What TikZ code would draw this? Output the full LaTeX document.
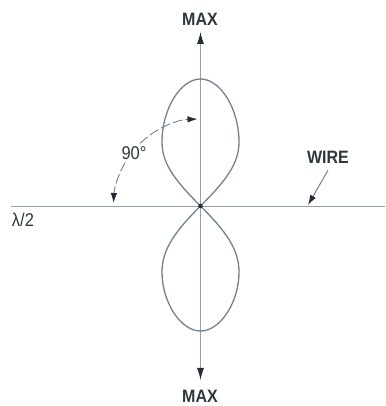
\documentclass[tikz,border=0pt]{standalone}
\usepackage{fontspec}
\setmainfont{Liberation Sans}
\usepackage{graphicx}
\usetikzlibrary{arrows.meta,calc}
\definecolor{txt}{RGB}{45,55,60}
\definecolor{lobe}{RGB}{115,128,142}
\definecolor{axis}{RGB}{150,160,172}
\definecolor{tipc}{RGB}{35,45,55}
\newcommand{\talltext}[1]{\scalebox{1}[1.12]{#1}}
\begin{document}
\begin{tikzpicture}[x=1pt,y=1pt,
  lbl/.style={text=txt,font=\fontsize{16}{16}\selectfont\bfseries,inner sep=0pt},
  plain/.style={text=txt,font=\fontsize{16.5}{16.5}\selectfont,inner sep=0pt},
  axisline/.style={draw=axis,line width=0.9pt},
  lobeline/.style={draw=lobe,line width=1.3pt},
  bigtip/.style={-{Latex[length=12pt,width=7pt,color=tipc]}},
  arctip/.style={-{Latex[length=10pt,width=6.5pt,color=tipc]}},
  arcline/.style={draw=lobe,line width=0.9pt,dash pattern=on 10pt off 3pt}]
\useasboundingbox (0,0) rectangle (385,406);
% key points
\coordinate (O) at (200.5,200);
\coordinate (toptip) at (200.5,374);
\coordinate (bottip) at (200.5,26);
\coordinate (wl) at (11,200);
\coordinate (wr) at (385,200);
\coordinate (wiretip) at (308,201);
% labels
\node[lbl] (maxtop) at (200,386.5) {\talltext{MAX}};
\node[lbl] (maxbot) at (200,10) {\talltext{MAX}};
\node[lbl] (wire) at (328,249) {\talltext{WIRE}};
\node[plain] (lam) at (23,186) {\talltext{λ/2}};
\node[plain] (deg) at (134,253) {\talltext{90°}};
% wire
\draw[axisline] (wl) -- (wr);
% vertical axis with arrows
\draw[axisline,bigtip] (O) -- (toptip);
\draw[axisline,bigtip] (O) -- (bottip);
% upper lobe
\draw[lobeline] (O)
  .. controls ($(O)+(-25,25)$) and ($(O)+(-38.5,42)$) .. ($(O)+(-38.5,64)$)
  .. controls ($(O)+(-38.5,97)$) and ($(O)+(-20,127)$) .. ($(O)+(0,127)$)
  .. controls ($(O)+(20,127)$) and ($(O)+(38.5,97)$) .. ($(O)+(38.5,64)$)
  .. controls ($(O)+(38.5,42)$) and ($(O)+(25,25)$) .. (O);
% lower lobe
\draw[lobeline] (O)
  .. controls ($(O)+(-25,-25)$) and ($(O)+(-38.5,-43)$) .. ($(O)+(-38.5,-66)$)
  .. controls ($(O)+(-38.5,-96)$) and ($(O)+(-20,-125)$) .. ($(O)+(0,-125)$)
  .. controls ($(O)+(20,-125)$) and ($(O)+(38.5,-96)$) .. ($(O)+(38.5,-66)$)
  .. controls ($(O)+(38.5,-43)$) and ($(O)+(25,-25)$) .. (O);
% centre dot
\fill[tipc] (O) circle (2.3pt);
% 90 degree arc
\draw[arcline,arctip] ($(O)+(150:87)$) arc[start angle=150,end angle=178,radius=87];
\draw[arcline,arctip] ($(O)+(134:87)$) arc[start angle=134,end angle=92,radius=87];
% wire pointer
\draw[draw=lobe,line width=1pt,arctip] ([yshift=-7pt]wire.south) -- (wiretip);
\end{tikzpicture}
\end{document}
